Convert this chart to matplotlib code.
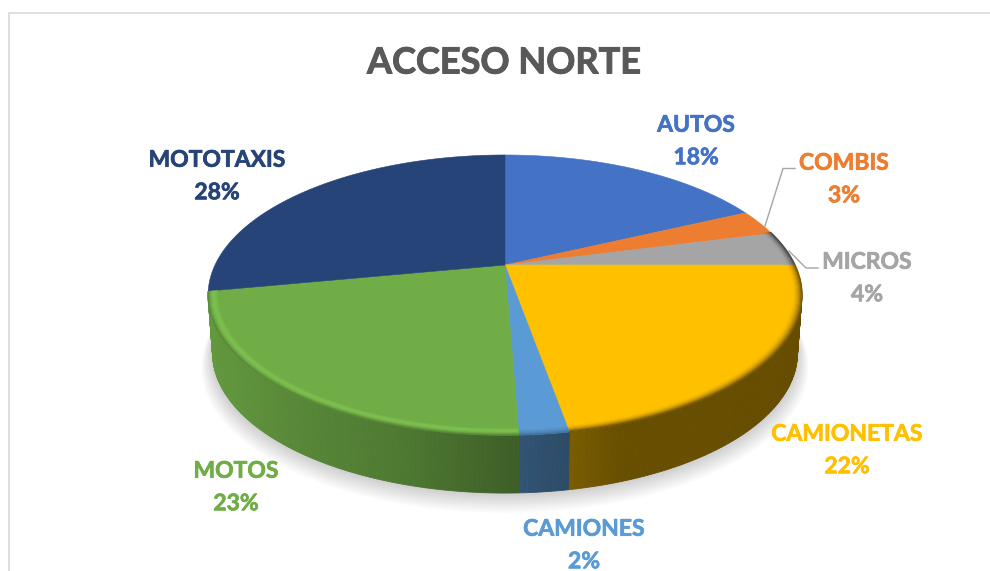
import numpy as np
import matplotlib
matplotlib.use('Agg')
import matplotlib.pyplot as plt
import matplotlib.patheffects as pe
from matplotlib.colors import to_rgb

titulo = 'ACCESO NORTE'
categorias = ['AUTOS', 'COMBIS', 'MICROS', 'CAMIONETAS', 'CAMIONES', 'MOTOS', 'MOTOTAXIS']
valores = [18.0, 3.0, 4.0, 22.2, 2.2, 22.6, 28.0]
colores = ['#4472C4', '#ED7D31', '#A5A5A5', '#FFC000', '#5B9BD5', '#70AD47', '#264478']

# posicion de las etiquetas en pixeles
pos_etiquetas = [(696, 141.5), (844, 179.5), (867, 278.5), (847, 450.5), (584, 545.5), (236, 487.5), (217, 176.5)]

# geometria del pastel en perspectiva
CX, CY = 505, 265
A, B, K = 290, 133.6, 0.2143
PROF = 58


def proyectar(t, r=1.0):
    u = r * np.sin(t)
    v = r * np.cos(t)
    d = 1 + K * v
    return CX + A * u / d, CY - B * v / d


def base(t, r=1.0):
    x, y = proyectar(t, r)
    return CX + (x - CX) * 0.985, y + PROF


def sombra_pared(x):
    return np.interp(x, [208, 300, 400, 515, 570, 620, 800], [.88, .78, .70, .55, .48, .41, .40])


plt.rcParams['font.family'] = ['Lato', 'DejaVu Sans']
fig = plt.figure(figsize=(9.9, 5.71), dpi=100)
ax = fig.add_axes([0, 0, 1, 1])
ax.set_xlim(0, 990)
ax.set_ylim(571, 0)
ax.axis('off')

# marco
ax.plot([8.5, 8.5, 990], [571, 13, 13], color='#D9D9D9', lw=1.2)

# sombra difusa debajo del pastel
tt = np.linspace(0, 2 * np.pi, 200)
for i in range(10):
    x, y = base(tt, 1 + i * 0.004)
    ax.fill(x, y + 1 + i * 1.2, color='black', alpha=0.02, lw=0)

# angulos acumulados, desde arriba en sentido horario
frac = np.array(valores) / sum(valores)
limites = np.concatenate([[0], np.cumsum(frac)]) * 2 * np.pi

# pared lateral
ini_frente, fin_frente = np.radians(95), np.radians(259)
for i, c in enumerate(colores):
    t0 = max(limites[i], ini_frente)
    t1 = min(limites[i + 1], fin_frente)
    if t1 <= t0:
        continue
    ts = np.linspace(t0, t1, max(int((t1 - t0) * 90), 2))
    for a, b in zip(ts[:-1], ts[1:]):
        xa, ya = proyectar(a)
        xb, yb = proyectar(b)
        xc, yc = base(b)
        xd, yd = base(a)
        col = np.array(to_rgb(c)) * sombra_pared((xa + xb) / 2)
        ax.fill([xa, xb, xc, xd], [ya, yb, yc, yd], color=col, lw=0.6)

# cara superior
for i, c in enumerate(colores):
    ts = np.linspace(limites[i], limites[i + 1], 120)
    x, y = proyectar(ts)
    ax.fill(np.r_[CX, x], np.r_[CY, y], color=c, lw=0.4)

# bisel del borde
radios = np.linspace(0.968, 1.0, 10)
for i, c in enumerate(colores):
    t0 = max(limites[i], np.radians(75))
    t1 = min(limites[i + 1], np.radians(259.2))
    if t1 <= t0:
        continue
    ts = np.linspace(t0, t1, 100)
    rgb = np.array(to_rgb(c))
    for j, r in enumerate(radios):
        s = j / (len(radios) - 1)
        if c == '#70AD47':
            col = rgb * (1 + 0.13 * np.sin(np.pi * s)) * (1 - 0.2 * s ** 3)
        elif c == '#5B9BD5':
            col = rgb * (1 - 0.25 * s ** 2)
        else:
            col = rgb * (1 - 0.55 * s ** 2)
        x, y = proyectar(ts, r)
        ax.plot(x, y, color=np.clip(col, 0, 1), lw=1.0, solid_capstyle='butt')

# lineas guia
ax.plot([765, 783, 795], [226, 168.5, 168.5], color='#A5A5A5', lw=1)
ax.plot([789, 806, 818], [251, 268, 268], color='#A5A5A5', lw=1)

# titulo y etiquetas
ax.text(504, 63, titulo, ha='center', va='center', fontsize=26, fontweight='bold', color='#595959',
        path_effects=[pe.withStroke(linewidth=0.7, foreground='#595959')])
for nombre, v, c, (x, y) in zip(categorias, valores, colores, pos_etiquetas):
    ax.text(x, y, f'{nombre}\n{round(v)}%', ha='center', va='center', fontsize=16.5,
            fontweight='bold', color=c, linespacing=1.68,
            path_effects=[pe.withStroke(linewidth=0.5, foreground=c)])

fig.savefig('out.png', dpi=100)
